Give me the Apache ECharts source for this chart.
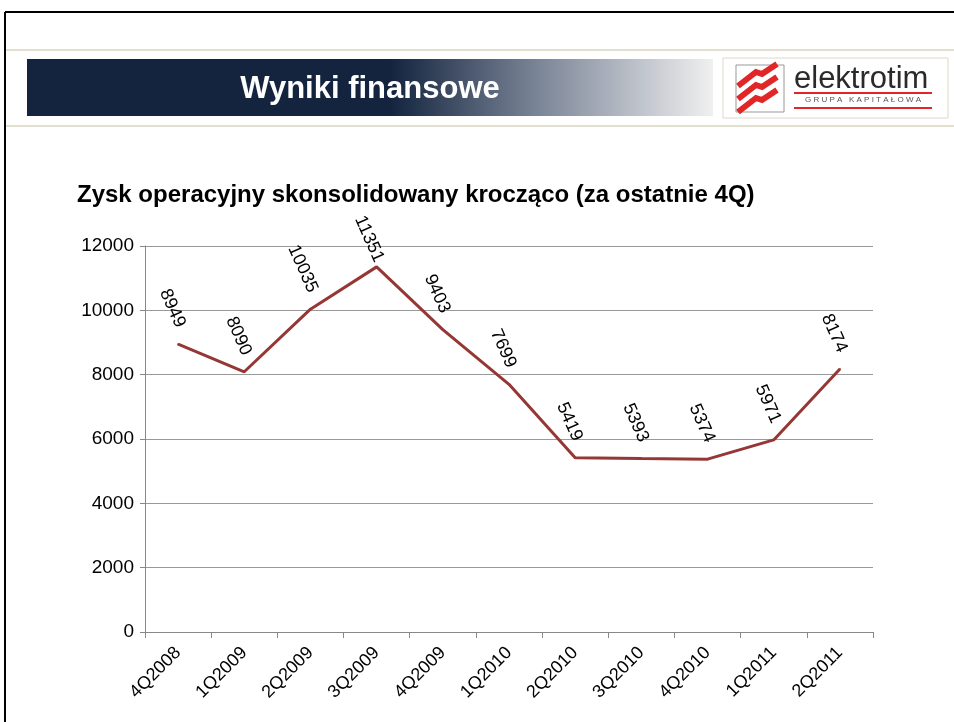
<!DOCTYPE html>
<html>
<head>
<meta charset="utf-8">
<title>Wyniki finansowe</title>
<script src="https://cdn.jsdelivr.net/npm/echarts@6/dist/echarts.min.js"></script>
<style>
  html, body { margin: 0; padding: 0; background: #fff; }
  #chart { width: 954px; height: 722px; }
</style>
</head>
<body>
<div id="chart"></div>
<script>
// dane: zysk operacyjny kroczący (za ostatnie 4Q)
var quarters = ["4Q2008", "1Q2009", "2Q2009", "3Q2009", "4Q2009", "1Q2010", "2Q2010", "3Q2010", "4Q2010", "1Q2011", "2Q2011"];
var profit = [8949, 8090, 10035, 11351, 9403, 7699, 5419, 5393, 5374, 5971, 8174];
var yTicks = [0, 2000, 4000, 6000, 8000, 10000, 12000];

var FONT = "Liberation Sans, Arial, sans-serif";
var chart = echarts.init(document.getElementById("chart"));

// najwyższa etykieta jest dosunięta do punktu (brak miejsca nad wykresem)
var maxVal = Math.max.apply(null, profit);
var lineData = profit.map(function (v) {
  return v === maxVal ? { value: v, label: { distance: 10 } } : v;
});

// paski logo (czerwone skosy)
var stripes = [];
[78, 91, 104].forEach(function (y0) {
  stripes.push({
    type: "polyline",
    shape: { points: [[738, y0 + 8], [756, y0 - 6], [762, y0 - 4], [777, y0 - 14]] },
    style: { stroke: "#e02626", lineWidth: 6, fill: null }
  });
});

var option = {
  animation: false,
  backgroundColor: "#fff",
  title: {
    text: "Zysk operacyjny skonsolidowany krocząco (za ostatnie 4Q)",
    left: 72,
    top: 178,
    textStyle: { fontFamily: FONT, fontSize: 24, fontWeight: "bold", color: "#000" }
  },
  grid: { left: 145, right: 81, top: 246, bottom: 90 },
  xAxis: {
    type: "category",
    data: quarters,
    boundaryGap: true,
    axisLine: { lineStyle: { color: "#888", width: 1 } },
    axisTick: { show: true, length: 6, lineStyle: { color: "#888" } },
    axisLabel: { rotate: 45, margin: 18, fontFamily: FONT, fontSize: 18, color: "#000", interval: 0 },
    splitLine: { show: false }
  },
  yAxis: {
    type: "value",
    min: yTicks[0],
    max: yTicks[yTicks.length - 1],
    interval: 2000,
    axisLine: { show: true, lineStyle: { color: "#888", width: 1 } },
    axisTick: { show: true, length: 5, lineStyle: { color: "#888" } },
    axisLabel: {
      margin: 11,
      fontFamily: FONT,
      fontSize: 19,
      color: "#000",
      formatter: function (v) { return String(v); }
    },
    splitLine: { show: true, lineStyle: { color: "#999", width: 1 } }
  },
  series: [
    {
      type: "line",
      data: lineData,
      symbol: "circle",
      symbolSize: 2,
      showSymbol: true,
      itemStyle: { color: "#953735" },
      lineStyle: { color: "#953735", width: 3 },
      label: {
        show: true,
        position: "top",
        distance: 22,
        offset: [6, 0],
        rotate: -66,
        align: "right",
        verticalAlign: "middle",
        fontFamily: FONT,
        fontSize: 18,
        color: "#000"
      }
    }
  ],
  graphic: [
    // ramka slajdu
    { type: "line", shape: { x1: 5, y1: 12, x2: 954, y2: 12 }, style: { stroke: "#000", lineWidth: 2 } },
    { type: "line", shape: { x1: 5, y1: 12, x2: 5, y2: 722 }, style: { stroke: "#000", lineWidth: 2 } },
    { type: "line", shape: { x1: 6, y1: 50, x2: 954, y2: 50 }, style: { stroke: "#d9d4bf", lineWidth: 1.5 } },
    { type: "line", shape: { x1: 6, y1: 126, x2: 954, y2: 126 }, style: { stroke: "#d9d4bf", lineWidth: 1.5 } },
    // pasek tytułu
    {
      type: "rect",
      shape: { x: 27, y: 59, width: 686, height: 57 },
      style: {
        fill: new echarts.graphic.LinearGradient(0, 0, 1, 0, [
          { offset: 0, color: "#14243f" },
          { offset: 0.53, color: "#14243f" },
          { offset: 0.75, color: "#7d8799" },
          { offset: 1, color: "#f0f0f0" }
        ])
      }
    },
    {
      type: "text",
      x: 370, y: 89,
      style: { text: "Wyniki finansowe", fill: "#fff", font: "bold 31px " + FONT, textAlign: "center", textVerticalAlign: "middle" }
    },
    // logo
    { type: "rect", shape: { x: 723, y: 58, width: 225, height: 60 }, style: { fill: "#fff", stroke: "#ddd8c8", lineWidth: 1 } },
    { type: "rect", shape: { x: 736, y: 65, width: 48, height: 47 }, style: { fill: "#fff", stroke: "#999", lineWidth: 1 } }
  ].concat(stripes).concat([
    {
      type: "text",
      x: 794, y: 79,
      style: { text: "elektrotim", fill: "#2a2a2a", font: "31px " + FONT, textVerticalAlign: "middle" }
    },
    { type: "rect", shape: { x: 794, y: 92, width: 138, height: 2 }, style: { fill: "#e02626" } },
    {
      type: "text",
      x: 863, y: 100,
      style: { text: "G R U P A   K A P I T A Ł O W A", fill: "#555", font: "8px " + FONT, textAlign: "center", textVerticalAlign: "middle" }
    },
    { type: "rect", shape: { x: 794, y: 107, width: 138, height: 2 }, style: { fill: "#e02626" } }
  ])
};

chart.setOption(option);
</script>
</body>
</html>
